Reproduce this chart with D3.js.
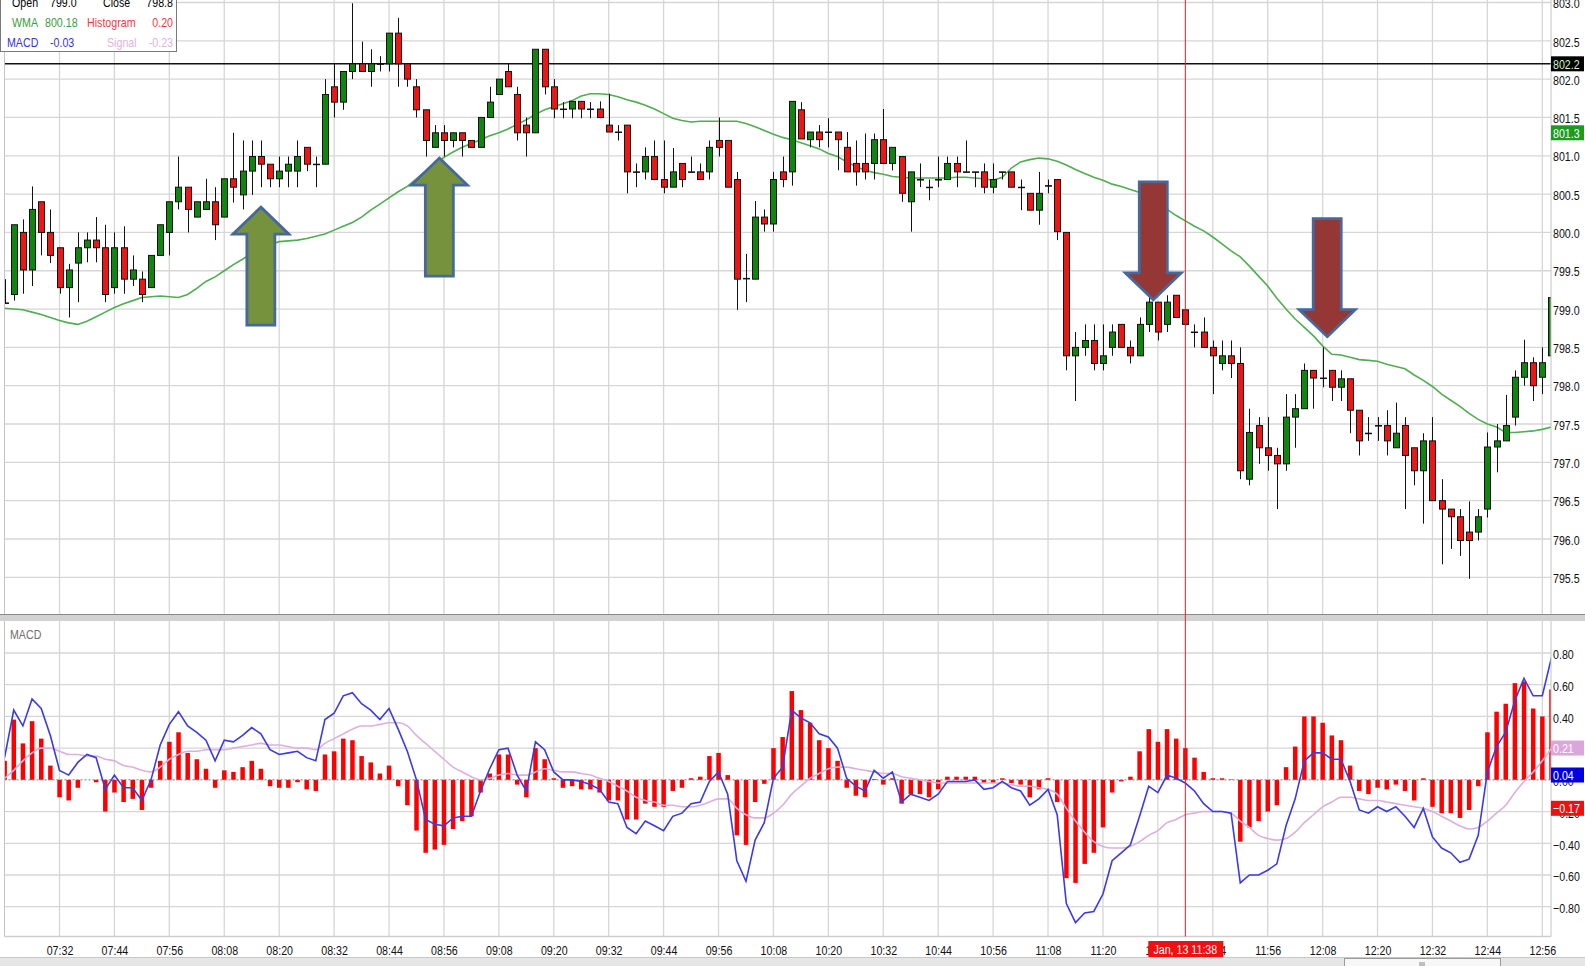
<!DOCTYPE html>
<html>
<head>
<meta charset="utf-8">
<script src="https://cdn.jsdelivr.net/npm/d3@7"></script>
<style>
  body { margin: 0; background: #fff; }
  svg text { font-family: "Liberation Sans", Arial, sans-serif; font-size: 13px; }
</style>
</head>
<body>
<svg id="chart" width="1585" height="966"></svg>
<script>
// ---- data (2-minute candles, first one at 07:20) ----
const firstCandle = "07:20";
const candleMinutes = 2;

const open = [799.08,799.19,800.00,799.51,800.40,800.00,799.80,799.28,799.60,799.80,799.90,799.80,799.28,799.80,799.39,799.39,799.28,799.70,800.00,800.40,
  800.59,800.20,800.30,800.40,800.20,800.70,800.49,800.80,800.99,800.89,800.70,800.80,800.80,801.11,800.89,800.89,801.90,801.70,802.10,802.20,
  802.10,802.20,802.20,802.60,802.20,801.90,801.60,801.11,801.30,801.20,801.30,801.20,801.11,801.50,801.80,802.10,801.80,801.40,801.30,802.39,
  801.90,801.61,801.61,801.71,801.61,801.61,801.40,801.31,801.40,800.79,800.79,800.99,800.69,800.59,800.90,800.79,800.79,800.79,801.20,801.20,
  800.69,799.40,799.39,800.20,800.11,800.79,800.79,801.60,801.21,801.31,801.31,801.31,801.11,800.90,800.90,800.90,801.21,800.90,800.99,800.40,
  800.69,800.59,800.69,800.69,800.90,800.79,800.79,800.79,800.59,800.79,800.79,800.59,800.51,800.29,800.61,800.69,800.00,798.39,798.50,798.59,
  798.29,798.50,798.80,798.50,798.39,798.80,799.09,798.80,799.18,798.99,798.70,798.70,798.50,798.29,798.39,798.29,796.78,797.48,797.19,797.09,
  796.98,797.59,797.70,798.20,798.10,798.20,797.98,798.09,797.68,797.38,797.48,797.48,797.19,797.48,797.19,796.89,797.28,796.50,796.39,796.29,
  796.09,796.09,796.39,797.20,797.28,797.59,798.11,798.30,798.11,798.39];
const high = [799.39,800.10,800.17,800.60,800.40,800.30,799.80,799.59,800.00,800.00,800.20,800.10,800.00,800.08,799.70,799.49,799.70,800.10,800.40,800.99,
  800.59,800.40,800.70,800.59,800.70,801.30,801.20,801.20,801.20,800.89,800.99,800.99,801.20,801.11,800.99,802.00,802.20,802.10,802.99,802.49,
  802.39,802.30,802.60,802.80,802.20,802.00,801.60,801.40,801.40,801.30,801.30,801.20,801.50,801.90,802.00,802.20,801.90,801.50,802.39,802.39,
  802.00,801.70,801.71,801.71,801.70,801.71,801.81,801.40,801.40,800.90,801.11,801.20,801.20,801.10,800.90,800.99,800.90,801.20,801.50,801.20,
  800.79,799.72,800.41,800.30,800.79,800.99,801.71,801.70,801.31,801.40,801.49,801.31,801.31,801.20,801.29,801.29,801.61,801.11,800.99,800.79,
  800.90,800.69,800.99,800.99,800.99,801.20,800.79,800.90,800.90,800.79,800.79,800.69,800.51,800.79,800.69,800.69,800.00,798.70,798.80,798.80,
  798.80,798.80,798.80,798.59,798.89,799.18,799.09,799.18,799.18,798.99,798.80,798.89,798.59,798.59,798.59,798.50,797.70,797.59,797.59,797.19,
  797.89,797.89,798.29,798.20,798.50,798.20,798.20,798.09,797.68,797.59,797.59,797.68,797.78,797.59,797.19,797.38,797.59,796.78,796.39,796.39,
  796.49,796.39,797.39,797.50,797.88,798.20,798.60,798.37,798.50,799.15];
const low = [799.07,799.11,799.20,799.30,799.70,799.60,799.20,798.89,799.09,799.61,799.61,799.09,799.20,799.20,799.30,799.09,799.28,799.70,799.70,800.30,
  800.00,800.20,800.30,799.90,800.20,800.39,800.30,800.49,800.59,800.59,800.59,800.59,800.59,800.80,800.59,800.89,801.50,801.60,802.00,802.10,
  801.90,802.10,802.10,801.90,801.90,801.50,800.99,801.11,800.99,801.11,800.99,801.11,801.11,801.50,801.80,801.90,801.20,800.99,801.30,801.80,
  801.49,801.49,801.49,801.49,801.49,801.49,801.31,801.20,800.51,800.59,800.69,800.69,800.51,800.59,800.59,800.79,800.69,800.69,800.99,800.59,
  798.99,799.09,799.39,800.01,800.01,800.59,800.61,801.22,801.11,801.11,801.11,800.81,800.79,800.61,800.69,800.69,800.90,800.81,800.40,800.01,
  800.59,800.42,800.59,800.69,800.59,800.79,800.59,800.51,800.51,800.69,800.59,800.29,800.29,800.10,800.51,799.90,798.20,797.80,798.39,798.20,
  798.20,798.39,798.50,798.29,798.39,798.70,798.59,798.70,798.89,798.80,798.50,798.50,797.89,798.20,798.10,796.78,796.70,796.98,796.89,796.39,
  796.89,797.19,797.70,797.70,797.98,797.80,797.80,797.38,797.09,797.28,797.28,797.09,797.19,796.39,796.70,796.20,796.50,795.67,795.87,795.78,
  795.48,795.98,796.28,796.87,797.28,797.48,798.00,797.80,797.89,798.39];
const close = [799.08,800.10,799.51,800.30,800.00,799.70,799.28,799.51,799.80,799.90,799.80,799.19,799.80,799.39,799.51,799.19,799.70,800.10,800.40,800.59,
  800.30,800.40,800.40,800.10,800.70,800.59,800.80,800.99,800.89,800.70,800.80,800.89,800.99,800.89,800.89,801.80,801.70,802.10,802.20,802.10,
  802.20,802.20,802.60,802.20,802.00,801.60,801.20,801.30,801.20,801.30,801.20,801.11,801.50,801.70,802.00,801.90,801.30,801.30,802.39,801.90,
  801.61,801.61,801.71,801.61,801.61,801.50,801.31,801.31,800.79,800.79,800.99,800.69,800.59,800.79,800.69,800.79,800.69,801.11,801.11,800.59,
  799.39,799.40,800.20,800.11,800.69,800.69,801.71,801.22,801.31,801.21,801.31,801.21,800.79,800.79,800.79,801.21,800.90,801.11,800.51,800.79,
  800.69,800.59,800.69,800.90,800.79,800.79,800.79,800.59,800.69,800.79,800.59,800.59,800.29,800.51,800.61,800.01,798.39,798.50,798.59,798.29,
  798.39,798.70,798.50,798.39,798.80,799.09,798.70,799.09,798.89,798.80,798.70,798.50,798.39,798.39,798.29,796.89,797.39,797.19,797.09,796.98,
  797.59,797.70,798.20,798.10,798.10,797.98,798.09,797.68,797.28,797.38,797.48,797.28,797.38,797.09,796.89,797.28,796.50,796.39,796.29,795.98,
  795.98,796.29,797.20,797.28,797.48,798.11,798.30,798.00,798.30,799.15];
const wma = [799.01,799.00,798.99,798.96,798.93,798.89,798.85,798.82,798.80,798.84,798.90,798.96,799.02,799.07,799.11,799.15,799.16,799.17,799.16,799.15,
  799.19,799.27,799.36,799.42,799.50,799.58,799.65,799.73,799.80,799.84,799.88,799.89,799.90,799.92,799.95,799.98,800.03,800.08,800.13,800.20,
  800.29,800.37,800.45,800.53,800.60,800.70,800.80,800.90,800.98,801.05,801.11,801.16,801.21,801.26,801.30,801.35,801.41,801.47,801.54,801.60,
  801.64,801.68,801.72,801.78,801.81,801.81,801.80,801.77,801.73,801.70,801.66,801.61,801.55,801.49,801.46,801.44,801.45,801.45,801.45,801.45,
  801.45,801.42,801.38,801.33,801.28,801.24,801.21,801.17,801.13,801.09,801.03,800.99,800.92,800.86,800.81,800.78,800.76,800.73,800.72,800.71,
  800.71,800.71,800.71,800.71,800.72,800.72,800.71,800.70,800.68,800.72,800.84,800.92,800.95,800.97,800.96,800.93,800.88,800.82,800.77,800.72,
  800.68,800.63,800.60,800.56,800.52,800.45,800.37,800.30,800.22,800.15,800.08,800.02,799.94,799.85,799.76,799.68,799.56,799.43,799.30,799.14,
  799.00,798.87,798.76,798.65,798.52,798.41,798.40,798.37,798.34,798.33,798.32,798.28,798.25,798.22,798.14,798.07,797.99,797.89,797.81,797.73,
  797.64,797.56,797.50,797.46,797.39,797.39,797.40,797.41,797.43,797.46];

const histogram = [0.12,0.38,0.23,0.37,0.26,0.09,-0.11,-0.13,-0.05,0.0,-0.015,-0.20,-0.08,-0.14,-0.12,-0.19,-0.05,0.12,0.24,0.30,
  0.17,0.13,0.07,-0.05,0.06,0.05,0.08,0.12,0.07,-0.04,-0.05,-0.05,-0.015,-0.06,-0.07,0.16,0.18,0.26,0.25,0.15,
  0.11,0.04,0.09,-0.04,-0.16,-0.32,-0.46,-0.44,-0.41,-0.31,-0.26,-0.23,-0.08,0.04,0.16,0.16,-0.03,-0.11,0.20,0.13,
  0.01,-0.05,-0.04,-0.06,-0.06,-0.08,-0.13,-0.13,-0.25,-0.25,-0.15,-0.17,-0.17,-0.07,-0.05,0.01,0.02,0.15,0.17,0.03,
  -0.35,-0.41,-0.14,-0.025,0.20,0.27,0.56,0.44,0.36,0.25,0.20,0.12,-0.05,-0.10,-0.11,0.005,-0.03,0.01,-0.15,-0.09,
  -0.09,-0.11,-0.06,0.02,0.02,0.02,0.02,-0.02,-0.02,0.01,-0.02,-0.03,-0.11,-0.06,0.01,-0.14,-0.62,-0.65,-0.53,-0.46,
  -0.30,-0.08,-0.01,0.02,0.18,0.32,0.24,0.32,0.26,0.20,0.14,0.05,0.01,0.01,0.003,-0.39,-0.30,-0.26,-0.20,-0.16,
  0.08,0.21,0.40,0.40,0.36,0.28,0.25,0.09,-0.07,-0.09,-0.05,-0.06,-0.03,-0.07,-0.13,0.01,-0.17,-0.21,-0.21,-0.24,
  -0.19,-0.04,0.30,0.43,0.48,0.61,0.62,0.45,0.40,0.57];
const macd = [0.14,0.44,0.34,0.51,0.45,0.28,0.06,0.03,0.11,0.16,0.14,-0.06,0.03,-0.05,-0.05,-0.13,0.00,0.22,0.35,0.43,
  0.34,0.30,0.25,0.12,0.25,0.24,0.28,0.33,0.29,0.19,0.16,0.17,0.18,0.14,0.12,0.38,0.42,0.53,0.55,0.48,
  0.44,0.38,0.45,0.32,0.18,0.00,-0.25,-0.28,-0.29,-0.24,-0.23,-0.23,-0.07,0.07,0.19,0.20,0.03,-0.07,0.24,0.19,
  0.05,0.00,0.00,-0.01,-0.03,-0.06,-0.14,-0.15,-0.30,-0.34,-0.26,-0.29,-0.32,-0.23,-0.21,-0.15,-0.14,-0.01,0.05,-0.09,
  -0.51,-0.64,-0.38,-0.27,0.01,0.08,0.44,0.39,0.36,0.29,0.27,0.20,0.01,-0.04,-0.07,0.06,0.01,0.05,-0.14,-0.09,
  -0.11,-0.13,-0.09,-0.01,-0.01,-0.01,0.00,-0.06,-0.05,-0.01,-0.05,-0.07,-0.16,-0.12,-0.06,-0.22,-0.78,-0.90,-0.84,-0.83,
  -0.72,-0.51,-0.46,-0.41,-0.23,-0.04,-0.08,0.03,0.01,-0.02,-0.07,-0.15,-0.20,-0.20,-0.21,-0.65,-0.60,-0.60,-0.57,-0.53,
  -0.29,-0.12,0.12,0.17,0.17,0.13,0.13,-0.01,-0.19,-0.21,-0.17,-0.20,-0.17,-0.23,-0.30,-0.18,-0.36,-0.43,-0.46,-0.52,
  -0.50,-0.35,0.05,0.21,0.30,0.50,0.64,0.53,0.53,0.77];
const signal = [0.01,0.06,0.12,0.17,0.20,0.20,0.18,0.16,0.16,0.15,0.15,0.13,0.12,0.09,0.08,0.06,0.05,0.08,0.13,0.16,
  0.18,0.18,0.19,0.19,0.19,0.20,0.21,0.22,0.23,0.22,0.22,0.21,0.20,0.20,0.19,0.23,0.26,0.29,0.32,0.34,
  0.34,0.35,0.36,0.36,0.34,0.28,0.23,0.18,0.13,0.08,0.05,0.02,0.00,0.01,0.03,0.04,0.03,0.03,0.05,0.07,
  0.06,0.05,0.05,0.04,0.03,0.01,-0.01,-0.04,-0.07,-0.11,-0.13,-0.14,-0.16,-0.16,-0.17,-0.17,-0.16,-0.14,-0.12,-0.12,
  -0.18,-0.22,-0.24,-0.24,-0.21,-0.16,-0.09,-0.04,0.01,0.04,0.07,0.08,0.08,0.07,0.06,0.05,0.04,0.04,0.02,0.01,
  0.00,-0.01,-0.02,-0.02,-0.02,-0.02,-0.02,-0.02,-0.02,-0.02,-0.03,-0.04,-0.04,-0.05,-0.06,-0.09,-0.18,-0.26,-0.33,-0.39,
  -0.42,-0.43,-0.43,-0.42,-0.39,-0.35,-0.32,-0.27,-0.25,-0.22,-0.21,-0.20,-0.20,-0.20,-0.21,-0.26,-0.30,-0.35,-0.37,-0.38,
  -0.37,-0.33,-0.27,-0.22,-0.17,-0.14,-0.11,-0.11,-0.12,-0.13,-0.13,-0.14,-0.15,-0.16,-0.17,-0.18,-0.20,-0.23,-0.26,-0.29,
  -0.31,-0.30,-0.26,-0.21,-0.16,-0.08,-0.01,0.05,0.12,0.20];

const timeTicks = ["07:32","07:44","07:56","08:08","08:20","08:32","08:44","08:56","09:08","09:20","09:32","09:44","09:56","10:08",
  "10:20","10:32","10:44","10:56","11:08","11:20","11:32","11:44","11:56","12:08","12:20","12:32","12:44","12:56"];
const priceTicks = [795.5,796.0,796.5,797.0,797.5,798.0,798.5,799.0,799.5,800.0,800.5,801.0,801.5,802.0,802.5,803.0];
const macdTicks = [0.8,0.6,0.4,0.2,0.0,-0.2,-0.4,-0.6,-0.8];

// level line and right-hand value flags
const levelLine = 802.2;
const priceFlags = [{v: 802.2, bg: "#000", fg: "#c9f5c9"}, {v: 801.3, bg: "#1e9a1e", fg: "#fff"}];
const macdFlags = [{v: 0.21, bg: "#dba6db", fg: "#fff"}, {v: 0.04, bg: "#0000e0", fg: "#fff"}, {v: -0.17, bg: "#f01010", fg: "#fff"}];

// annotation arrows: candle position and price of the tip
const arrowAt = [28.0, 47.8, 125.6, 144.7];
const arrowTip = [800.33, 800.97, 799.12, 798.64];
const arrowDir = ["up", "up", "down", "down"];

const cursorTime = "11:38";
const cursorLabel = "Jan, 13 11:38";
const legendRows = [
  [["Open", "#000", "start", 12], ["799.0", "#000", "start", 50], ["Close", "#000", "start", 103], ["798.8", "#000", "end", 173]],
  [["WMA", "#3c9c3c", "start", 12], ["800.18", "#3c9c3c", "start", 45], ["Histogram", "#f03a3a", "start", 87], ["0.20", "#f03a3a", "end", 173]],
  [["MACD", "#3434e0", "start", 7], ["-0.03", "#3434e0", "start", 50], ["Signal", "#dcb4dc", "start", 107], ["-0.23", "#dcb4dc", "end", 173]]
];

// ---- layout ----
const W = 1585, H = 966;
const left = 4.5, right = 1551;
const priceTop = 0, priceBottom = 614;
const macdTop = 621, macdBottom = 936.5;
const squeeze = 0.82;   // the platform font is a narrow one

const parse = d3.timeParse("%H:%M");
const t0 = parse(firstCandle);
const candleTime = i => d3.timeMinute.offset(t0, i * candleMinutes);

const x = d3.scaleTime().domain([parse("07:32"), parse("12:56")]).range([59.5, 1542.3]);
const y = d3.scaleLinear().domain([795.5, 803]).range([577.3, 2.5]);
const ym = d3.scaleLinear().domain([-0.8, 0.8]).range([906.7, 653]);
const xi = i => x(candleTime(i));

// squeeze text horizontally around its own anchor
function narrow(sel) {
  sel.each(function () {
    const t = d3.select(this);
    const x0 = +t.attr("x") || 0, y0 = +t.attr("y") || 0;
    t.attr("x", 0).attr("y", 0).attr("transform", `translate(${x0},${y0}) scale(${squeeze},1)`);
  });
}

const svg = d3.select("#chart");
svg.append("rect").attr("width", W).attr("height", H).attr("fill", "#fff");

const defs = svg.append("defs");
defs.append("clipPath").attr("id", "clipP").append("rect")
  .attr("x", left).attr("y", priceTop).attr("width", right - left).attr("height", priceBottom - priceTop);
defs.append("clipPath").attr("id", "clipM").append("rect")
  .attr("x", left).attr("y", macdTop).attr("width", right - left).attr("height", macdBottom - macdTop);

const gridColor = "#d6d6d6";

// vertical grid for both panes
const tickDates = timeTicks.map(parse);
[[priceTop, priceBottom], [macdTop, macdBottom]].forEach(([a, b]) => {
  svg.append("g").selectAll("line").data(tickDates).join("line")
    .attr("x1", d => x(d)).attr("x2", d => x(d)).attr("y1", a).attr("y2", b)
    .attr("stroke", gridColor).attr("stroke-width", 1.3);
});

// horizontal grid
svg.append("g").selectAll("line").data(priceTicks).join("line")
  .attr("x1", left).attr("x2", right).attr("y1", d => y(d)).attr("y2", d => y(d))
  .attr("stroke", gridColor).attr("stroke-width", 1.3);
svg.append("g").selectAll("line").data(macdTicks.filter(d => d !== 0)).join("line")
  .attr("x1", left).attr("x2", right).attr("y1", d => ym(d)).attr("y2", d => ym(d))
  .attr("stroke", gridColor).attr("stroke-width", 1.3);

// ---- price pane ----
const pp = svg.append("g").attr("clip-path", "url(#clipP)");

pp.append("line").attr("x1", left).attr("x2", right).attr("y1", y(levelLine)).attr("y2", y(levelLine))
  .attr("stroke", "#111").attr("stroke-width", 1.5);

const idx = d3.range(open.length);

pp.append("path").datum(idx)
  .attr("fill", "none").attr("stroke", "#4fae4f").attr("stroke-width", 1.6)
  .attr("d", d3.line().x(i => xi(i)).y(i => y(wma[i])));

const cg = pp.append("g").selectAll("g").data(idx).join("g");
cg.append("line")
  .attr("x1", i => Math.round(xi(i)) + 0.5).attr("x2", i => Math.round(xi(i)) + 0.5)
  .attr("y1", i => y(high[i])).attr("y2", i => y(low[i]))
  .attr("stroke", "#111").attr("stroke-width", 1);
cg.append("rect")
  .attr("x", i => Math.round(xi(i)) - 2.5).attr("width", 6)
  .attr("y", i => y(Math.max(open[i], close[i])))
  .attr("height", i => Math.max(0.5, Math.abs(y(open[i]) - y(close[i]))))
  .attr("fill", i => close[i] > open[i] ? "#0f870f" : close[i] < open[i] ? "#ee1515" : "#111")
  .attr("stroke", "#111").attr("stroke-width", 1);

// arrows
const arrowShape = (dir) => {
  const hl = 27, hw = 28, sw = 14, len = 118;
  const s = dir === "up" ? 1 : -1;
  return [[0, 0], [hw, s * hl], [sw, s * hl], [sw, s * len], [-sw, s * len], [-sw, s * hl], [-hw, s * hl]];
};
svg.append("g").selectAll("polygon").data(d3.range(arrowAt.length)).join("polygon")
  .attr("points", k => arrowShape(arrowDir[k]).map(p => [xi(arrowAt[k]) + p[0], y(arrowTip[k]) + p[1]].join(",")).join(" "))
  .attr("fill", k => arrowDir[k] === "up" ? "#76923c" : "#953735")
  .attr("stroke", "#46689c").attr("stroke-width", 2.8).attr("stroke-linejoin", "miter");

// ---- macd pane ----
const mp = svg.append("g").attr("clip-path", "url(#clipM)");
mp.append("g").selectAll("rect").data(idx).join("rect")
  .attr("x", i => xi(i) - 2.2).attr("width", 4.5)
  .attr("y", i => Math.min(ym(histogram[i]), ym(0)))
  .attr("height", i => Math.abs(ym(histogram[i]) - ym(0)))
  .attr("fill", "#ff0000");
mp.append("line").attr("x1", left).attr("x2", right).attr("y1", ym(0)).attr("y2", ym(0))
  .attr("stroke", "#777").attr("stroke-width", 1).attr("stroke-dasharray", "2,2");
mp.append("path").datum(idx)
  .attr("fill", "none").attr("stroke", "#dcb0dc").attr("stroke-width", 1.6)
  .attr("d", d3.line().curve(d3.curveMonotoneX).x(i => xi(i)).y(i => ym(signal[i])));
mp.append("path").datum(idx)
  .attr("fill", "none").attr("stroke", "#3a3ae6").attr("stroke-width", 1.6)
  .attr("d", d3.line().x(i => xi(i)).y(i => ym(macd[i])));

mp.append("text").attr("x", 10).attr("y", 639).attr("fill", "#707070").attr("font-size", 13).text("MACD").call(narrow);

// pane frames
svg.append("rect").attr("x", 0).attr("y", priceBottom).attr("width", W).attr("height", macdTop - priceBottom).attr("fill", "#d2d2d2");
svg.append("line").attr("x1", 0).attr("x2", W).attr("y1", priceBottom + 0.5).attr("y2", priceBottom + 0.5).attr("stroke", "#8a8a8a");
[[priceTop, priceBottom], [macdTop, macdBottom]].forEach(([a, b]) => {
  svg.append("line").attr("x1", left).attr("x2", left).attr("y1", a).attr("y2", b).attr("stroke", "#c4c4c4");
  svg.append("line").attr("x1", right).attr("x2", right).attr("y1", a).attr("y2", b).attr("stroke", "#c4c4c4");
});
svg.append("line").attr("x1", left).attr("x2", right).attr("y1", macdBottom).attr("y2", macdBottom).attr("stroke", "#cfcfcf").attr("stroke-width", 1.3);

// cursor
svg.append("line").attr("x1", x(parse(cursorTime))).attr("x2", x(parse(cursorTime)))
  .attr("y1", 0).attr("y2", macdBottom).attr("stroke", "#e41e1e").attr("stroke-width", 1);

// ---- axes ----
const priceAxis = d3.axisRight(y).tickValues(priceTicks).tickSize(0).tickPadding(2).tickFormat(d3.format(".1f"));
const pa = svg.append("g").attr("transform", `translate(${right},0)`).call(priceAxis);
pa.select(".domain").remove();
pa.selectAll("text").attr("font-size", 13).attr("fill", "#111").attr("dy", "0.4em").call(narrow);

const macdAxis = d3.axisRight(ym).tickValues(macdTicks).tickSize(0).tickPadding(2).tickFormat(d3.format(".2f"));
const ma = svg.append("g").attr("transform", `translate(${right},0)`).call(macdAxis);
ma.select(".domain").remove();
ma.selectAll("text").attr("font-size", 13).attr("fill", "#111").attr("dy", "0.45em").call(narrow);

const timeAxis = d3.axisBottom(x).tickValues(tickDates).tickSize(0).tickPadding(0).tickFormat(d3.timeFormat("%H:%M"));
const ta = svg.append("g").attr("transform", `translate(0,${macdBottom + 9})`).call(timeAxis);
ta.select(".domain").remove();
ta.selectAll("text").attr("font-size", 13).attr("fill", "#111").call(narrow);

// value flags on the right
const flag = (g, v, ys, fmt, bg, fg) => {
  g.append("rect").attr("x", right).attr("y", ys(v) - 7.5).attr("width", 33).attr("height", 15).attr("fill", bg);
  g.append("text").attr("x", right + 2).attr("y", ys(v) + 5).attr("fill", fg).attr("font-size", 13).text(fmt(v)).call(narrow);
};
const fg = svg.append("g");
priceFlags.forEach(f => flag(fg, f.v, y, d3.format(".1f"), f.bg, f.fg));
macdFlags.forEach(f => flag(fg, f.v, v => ym(v) + 1.5, d3.format(".2f"), f.bg, f.fg));

// cursor time flag
const cx = x(parse(cursorTime));
svg.append("rect").attr("x", cx - 37).attr("y", 941).attr("width", 75).attr("height", 16).attr("fill", "#f01010");
svg.append("text").attr("x", cx).attr("y", 954).attr("text-anchor", "middle").attr("fill", "#fff").attr("font-size", 13).text(cursorLabel).call(narrow);

// bottom scroll strip
svg.append("rect").attr("x", 0).attr("y", 957).attr("width", W).attr("height", 9).attr("fill", "#e6e6e6");
svg.append("line").attr("x1", 0).attr("x2", W).attr("y1", 957.5).attr("y2", 957.5).attr("stroke", "#c8c8c8");
svg.append("rect").attr("x", 1344.5).attr("y", 958.5).attr("width", 156).attr("height", 9).attr("fill", "#f7f7f7").attr("stroke", "#9a9a9a");
svg.append("g").selectAll("line").data([-2, 0, 2]).join("line")
  .attr("x1", d => 1422 + d).attr("x2", d => 1422 + d).attr("y1", 962).attr("y2", 966).attr("stroke", "#888");

// legend box
const lg = svg.append("g");
lg.append("rect").attr("x", 0.5).attr("y", -2).attr("width", 176).attr("height", 53.5).attr("fill", "#fff").attr("stroke", "#7a7a7a");
const rowY = [6.5, 26.5, 47];
legendRows.forEach((row, r) => {
  row.forEach(([txt, col, anchor, tx]) => {
    lg.append("text").attr("x", tx).attr("y", rowY[r]).attr("fill", col).attr("text-anchor", anchor).attr("font-size", 13).text(txt).call(narrow);
  });
});
</script>
</body>
</html>
